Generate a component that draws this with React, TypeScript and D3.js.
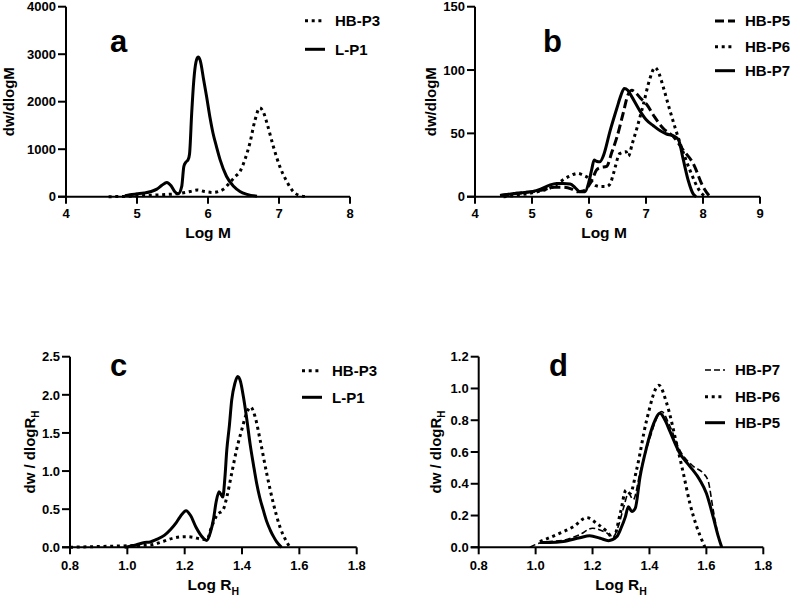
import React from 'react';
import * as d3 from 'd3';

const FONT = '"Liberation Sans", Arial, Helvetica, sans-serif';

// ---------- Panel a ----------
const aTicksX = [4, 5, 6, 7, 8];
const aTicksY = [0, 1000, 2000, 3000, 4000];
const aHBP3X = [4.6, 4.8, 5.0, 5.2, 5.4, 5.6, 5.75, 5.85, 5.95, 6.07, 6.15, 6.22, 6.31, 6.38, 6.45, 6.52, 6.59, 6.66, 6.73, 6.78, 6.83, 6.92, 7.01, 7.11, 7.2, 7.28, 7.38];
const aHBP3Y = [0, 5, 15, 30, 45, 70, 110, 140, 110, 90, 110, 160, 300, 420, 530, 780, 1130, 1600, 1870, 1780, 1550, 1060, 640, 320, 110, 30, 0];
const aLP1X = [4.83, 4.9, 5.0, 5.1, 5.2, 5.28, 5.35, 5.42, 5.48, 5.53, 5.58, 5.63, 5.66, 5.69, 5.72, 5.74, 5.77, 5.80, 5.83, 5.86, 5.89, 5.94, 5.98, 6.03, 6.07, 6.12, 6.17, 6.26, 6.36, 6.45, 6.55, 6.69];
const aLP1Y = [20, 40, 60, 80, 110, 160, 240, 300, 230, 110, 60, 217, 640, 730, 780, 900, 1750, 2450, 2830, 2940, 2870, 2450, 2110, 1650, 1340, 1050, 780, 430, 220, 110, 50, 10];

// ---------- Panel b ----------
const bTicksX = [4, 5, 6, 7, 8, 9];
const bTicksY = [0, 50, 100, 150];
const bHBP5X = [4.44, 4.6, 4.8, 5.0, 5.2, 5.4, 5.55, 5.7, 5.8, 5.9, 6.0, 6.08, 6.13, 6.2, 6.31, 6.4, 6.49, 6.6, 6.68, 6.75, 6.82, 6.9, 7.01, 7.15, 7.3, 7.48, 7.65, 7.83, 8.0, 8.12];
const bHBP5Y = [1, 2, 3, 4, 5.5, 7.5, 7.5, 6, 4, 4.5, 9, 16, 21, 23, 24, 35, 47, 66, 80, 84, 82, 78, 73, 63, 54, 47.5, 37, 26, 8, 0];
const bHBP6X = [4.5, 4.8, 5.0, 5.2, 5.37, 5.5, 5.65, 5.8, 5.9, 6.0, 6.11, 6.2, 6.3, 6.37, 6.43, 6.54, 6.65, 6.69, 6.76, 6.84, 6.96, 7.06, 7.16, 7.23, 7.3, 7.42, 7.6, 7.77, 7.95, 8.04];
const bHBP6Y = [0, 1.5, 3, 5, 8, 12, 16, 18.4, 17, 14.5, 9, 8, 8, 10, 18.4, 34, 35.5, 32, 42, 54, 74, 92, 102, 97, 87, 68, 42, 21, 4, 0];
const bHBP7X = [4.44, 4.6, 4.8, 5.0, 5.15, 5.3, 5.43, 5.55, 5.67, 5.76, 5.84, 5.93, 6.0, 6.05, 6.09, 6.13, 6.19, 6.25, 6.37, 6.49, 6.56, 6.62, 6.68, 6.75, 6.89, 7.0, 7.13, 7.25, 7.36, 7.48, 7.57, 7.65, 7.74, 7.83, 7.88];
const bHBP7Y = [1, 2, 3, 4, 6, 9, 10.5, 10.5, 10, 7, 4, 4, 12, 22, 29, 28, 27.5, 32, 52, 70, 80, 85.5, 84, 79, 68, 61, 56, 52, 49.5, 48, 45, 30, 13, 2, 0];

// ---------- Panel c ----------
const cTicksX = [0.8, 1.0, 1.2, 1.4, 1.6, 1.8];
const cTicksY = [0, 0.5, 1.0, 1.5, 2.0, 2.5];
const cHBP3X = [0.8, 0.9, 1.0, 1.079, 1.12, 1.16, 1.201, 1.23, 1.253, 1.277, 1.294, 1.312, 1.335, 1.347, 1.364, 1.381, 1.399, 1.416, 1.43, 1.445, 1.463, 1.486, 1.509, 1.532, 1.556, 1.567];
const cHBP3Y = [0, 0.01, 0.02, 0.03, 0.07, 0.12, 0.14, 0.13, 0.11, 0.1, 0.27, 0.42, 0.5, 0.66, 0.97, 1.28, 1.54, 1.76, 1.84, 1.72, 1.41, 0.97, 0.58, 0.27, 0.07, 0];
const cLP1X = [0.99, 1.03, 1.056, 1.08, 1.10, 1.13, 1.15, 1.17, 1.184, 1.205, 1.22, 1.24, 1.265, 1.277, 1.29, 1.30, 1.31, 1.32, 1.333, 1.34, 1.347, 1.356, 1.364, 1.375, 1.385, 1.395, 1.405, 1.417, 1.428, 1.44, 1.451, 1.462, 1.474, 1.486, 1.498, 1.51, 1.521, 1.538];
const cLP1Y = [0, 0.03, 0.06, 0.07, 0.10, 0.16, 0.23, 0.32, 0.40, 0.48, 0.42, 0.26, 0.12, 0.09, 0.2, 0.36, 0.6, 0.73, 0.66, 0.9, 1.28, 1.6, 1.93, 2.15, 2.24, 2.17, 1.97, 1.67, 1.36, 1.08, 0.84, 0.65, 0.49, 0.34, 0.23, 0.14, 0.07, 0];

// ---------- Panel d ----------
const dTicksX = [0.8, 1.0, 1.2, 1.4, 1.6, 1.8];
const dTicksY = [0, 0.2, 0.4, 0.6, 0.8, 1.0, 1.2];
const dHBP7X = [0.98, 1.02, 1.1, 1.155, 1.20, 1.25, 1.273, 1.29, 1.31, 1.326, 1.343, 1.367, 1.40, 1.443, 1.47, 1.507, 1.554, 1.589, 1.606, 1.624, 1.642, 1.654];
const dHBP7Y = [0.0, 0.03, 0.045, 0.08, 0.12, 0.09, 0.067, 0.13, 0.256, 0.34, 0.30, 0.47, 0.68, 0.855, 0.77, 0.61, 0.51, 0.466, 0.42, 0.235, 0.07, 0];
const dHBP6X = [1.015, 1.074, 1.133, 1.18, 1.215, 1.25, 1.273, 1.297, 1.318, 1.332, 1.355, 1.39, 1.433, 1.46, 1.495, 1.519, 1.542, 1.566, 1.589, 1.595];
const dHBP6Y = [0.036, 0.08, 0.13, 0.187, 0.15, 0.10, 0.057, 0.21, 0.36, 0.34, 0.49, 0.80, 1.02, 0.91, 0.655, 0.466, 0.277, 0.13, 0.025, 0];
const dHBP5X = [1.015, 1.05, 1.097, 1.155, 1.19, 1.227, 1.256, 1.285, 1.30, 1.315, 1.326, 1.338, 1.35, 1.367, 1.39, 1.415, 1.437, 1.455, 1.472, 1.507, 1.542, 1.577, 1.60, 1.624, 1.642, 1.654];
const dHBP5Y = [0.03, 0.03, 0.036, 0.06, 0.073, 0.057, 0.042, 0.067, 0.12, 0.19, 0.256, 0.225, 0.245, 0.445, 0.63, 0.78, 0.844, 0.80, 0.73, 0.59, 0.51, 0.424, 0.34, 0.19, 0.067, 0];

type StyleKey = 'solid' | 'dotted' | 'dashed' | 'thinDash';
const STYLES: Record<StyleKey, { w: number; dash?: string }> = {
  solid: { w: 3 },
  dotted: { w: 3, dash: '3,3.7' },
  dashed: { w: 3, dash: '9,4' },
  thinDash: { w: 1.6, dash: '6,3' },
};

type Series = { name: string; xs: number[]; ys: number[]; style: StyleKey };

type PanelProps = {
  left: number; right: number; top: number; bottom: number;
  xDom: [number, number]; yDom: [number, number];
  xTicks: number[]; yTicks: number[];
  xFmt: (v: number) => string; yFmt: (v: number) => string;
  series: Series[]; legendOrder: Series[];
  legendX: number; legendYs: number[];
  letter: string; letterX: number; letterY: number;
  yTitle: React.ReactNode; yTitleX: number;
  xTitle: React.ReactNode; xTitleY: number; xTitleX?: number;
  tickLabelY: number;
};

function Panel(p: PanelProps) {
  const x = d3.scaleLinear().domain(p.xDom).range([p.left, p.right]);
  const y = d3.scaleLinear().domain(p.yDom).range([p.bottom, p.top]);
  const line = d3.line<[number, number]>().x(d => x(d[0])).y(d => y(d[1])).curve(d3.curveMonotoneX);
  const midY = (p.top + p.bottom) / 2;
  const midX = p.xTitleX ?? (p.left + p.right) / 2;
  return (
    <g>
      {p.series.map(s => {
        const st = STYLES[s.style];
        const pts = s.xs.map((v, i) => [v, s.ys[i]] as [number, number]);
        return <path key={s.name} d={line(pts) || ''} fill="none" stroke="#000" strokeWidth={st.w} strokeDasharray={st.dash} strokeLinejoin="round" />;
      })}
      <line x1={p.left} x2={p.left} y1={p.top} y2={p.bottom + 1} stroke="#000" strokeWidth={2} />
      <line x1={p.left - 8} x2={p.right} y1={p.bottom} y2={p.bottom} stroke="#000" strokeWidth={2} />
      {p.yTicks.map(t => (
        <g key={'y' + t}>
          <line x1={p.left - 8} x2={p.left} y1={y(t)} y2={y(t)} stroke="#000" strokeWidth={2} />
          <text x={p.left - 10} y={y(t)} dy="0.36em" textAnchor="end" fontSize={13} fontWeight="bold" fontFamily={FONT}>{p.yFmt(t)}</text>
        </g>
      ))}
      {p.xTicks.map(t => (
        <g key={'x' + t}>
          <line x1={x(t)} x2={x(t)} y1={p.bottom} y2={p.bottom + 7} stroke="#000" strokeWidth={2} />
          <text x={x(t)} y={p.tickLabelY} textAnchor="middle" fontSize={13} fontWeight="bold" fontFamily={FONT}>{p.xFmt(t)}</text>
        </g>
      ))}
      <text transform={`translate(${p.yTitleX},${midY}) rotate(-90)`} textAnchor="middle" fontSize={15} fontWeight="bold" fontFamily={FONT}>{p.yTitle}</text>
      <text x={midX} y={p.xTitleY} textAnchor="middle" fontSize={15.5} fontWeight="bold" fontFamily={FONT}>{p.xTitle}</text>
      <text x={p.letterX} y={p.letterY} fontSize={31} fontWeight="bold" fontFamily={FONT}>{p.letter}</text>
      {p.legendOrder.map((s, i) => {
        const st = STYLES[s.style];
        const ly = p.legendYs[i];
        return (
          <g key={'lg' + s.name}>
            <line x1={p.legendX} x2={p.legendX + 20} y1={ly} y2={ly} stroke="#000" strokeWidth={st.w} strokeDasharray={st.dash} />
            <text x={p.legendX + 30} y={ly} dy="0.36em" fontSize={15} fontWeight="bold" fontFamily={FONT}>{s.name}</text>
          </g>
        );
      })}
    </g>
  );
}

const intFmt = (v: number) => d3.format('d')(v);
const oneDec = (v: number) => d3.format('.1f')(v);

export default function App() {
  const aSeries: Series[] = [
    { name: 'HB-P3', xs: aHBP3X, ys: aHBP3Y, style: 'dotted' },
    { name: 'L-P1', xs: aLP1X, ys: aLP1Y, style: 'solid' },
  ];
  const bSeries: Series[] = [
    { name: 'HB-P5', xs: bHBP5X, ys: bHBP5Y, style: 'dashed' },
    { name: 'HB-P6', xs: bHBP6X, ys: bHBP6Y, style: 'dotted' },
    { name: 'HB-P7', xs: bHBP7X, ys: bHBP7Y, style: 'solid' },
  ];
  const cSeries: Series[] = [
    { name: 'HB-P3', xs: cHBP3X, ys: cHBP3Y, style: 'dotted' },
    { name: 'L-P1', xs: cLP1X, ys: cLP1Y, style: 'solid' },
  ];
  const dSeries: Series[] = [
    { name: 'HB-P7', xs: dHBP7X, ys: dHBP7Y, style: 'thinDash' },
    { name: 'HB-P6', xs: dHBP6X, ys: dHBP6Y, style: 'dotted' },
    { name: 'HB-P5', xs: dHBP5X, ys: dHBP5Y, style: 'solid' },
  ];
  const rhTitle = (<>dw / dlogR<tspan dy={4} fontSize={10}>H</tspan></>);
  const rhX = (<>Log R<tspan dy={5} fontSize={10.5}>H</tspan></>);
  return (
    <svg width={794} height={600} style={{ position: 'absolute', left: 0, top: 0, background: '#fff' }}>
      <rect width={794} height={600} fill="#fff" />
      <Panel left={66} right={350} top={6.7} bottom={196.7} xDom={[4, 8]} yDom={[0, 4000]}
        xTicks={aTicksX} yTicks={aTicksY} xFmt={intFmt} yFmt={intFmt}
        series={aSeries} legendOrder={aSeries} legendX={305} legendYs={[20.7, 49.3]}
        letter="a" letterX={110} letterY={52} yTitle="dw/dlogM" yTitleX={14}
        xTitle="Log M" xTitleY={238} tickLabelY={218} />
      <Panel left={475} right={760} top={6.7} bottom={196.7} xDom={[4, 9]} yDom={[0, 150]}
        xTicks={bTicksX} yTicks={bTicksY} xFmt={intFmt} yFmt={intFmt}
        series={bSeries} legendOrder={bSeries} legendX={715} legendYs={[21, 46.7, 70.7]}
        letter="b" letterX={543} letterY={52} yTitle="dw/dlogM" yTitleX={436}
        xTitle="Log M" xTitleY={238} xTitleX={604} tickLabelY={218} />
      <Panel left={70} right={356.7} top={356.7} bottom={547.3} xDom={[0.8, 1.8]} yDom={[0, 2.5]}
        xTicks={cTicksX} yTicks={cTicksY} xFmt={oneDec} yFmt={oneDec}
        series={cSeries} legendOrder={cSeries} legendX={302} legendYs={[370.7, 397.3]}
        letter="c" letterX={110} letterY={376} yTitle={rhTitle} yTitleX={35}
        xTitle={rhX} xTitleY={590} tickLabelY={570} />
      <Panel left={478.7} right={763.3} top={356.7} bottom={547.3} xDom={[0.8, 1.8]} yDom={[0, 1.2]}
        xTicks={dTicksX} yTicks={dTicksY} xFmt={oneDec} yFmt={oneDec}
        series={dSeries} legendOrder={dSeries} legendX={705} legendYs={[370, 396.7, 422.7]}
        letter="d" letterX={549} letterY={376} yTitle={rhTitle} yTitleX={441}
        xTitle={rhX} xTitleY={590} tickLabelY={570} />
    </svg>
  );
}
